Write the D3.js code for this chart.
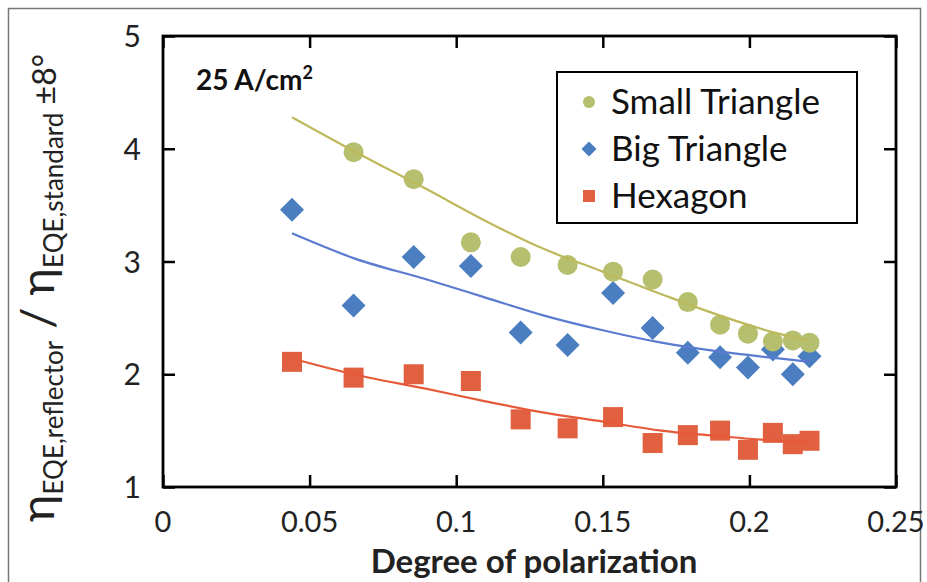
<!DOCTYPE html>
<html>
<head>
<meta charset="utf-8">
<script src="https://d3js.org/d3.v7.min.js"></script>
<style>
  body { margin: 0; background: #fff; }
  svg { font-family: Lato, "Open Sans", sans-serif; }
</style>
</head>
<body>
<svg id="chart" width="927" height="582"></svg>
<script>
// degree of polarization (same for every series)
const polarization = [0.044, 0.065, 0.0855, 0.105, 0.122, 0.138, 0.1535, 0.167, 0.179, 0.19, 0.1995, 0.208, 0.2148, 0.2205];

const smallTriangle = [null, 3.97, 3.73, 3.17, 3.04, 2.97, 2.91, 2.84, 2.64, 2.44, 2.36, 2.29, 2.3, 2.28];
const bigTriangle = [3.46, 2.61, 3.04, 2.96, 2.37, 2.26, 2.72, 2.41, 2.19, 2.15, 2.06, 2.22, 2.0, 2.16];
const hexagon = [2.11, 1.97, 2.0, 1.94, 1.6, 1.52, 1.62, 1.39, 1.46, 1.5, 1.33, 1.48, 1.38, 1.41];

// trendlines
const trendX = [0.044, 0.065, 0.09, 0.11, 0.13, 0.15, 0.17, 0.19, 0.21, 0.2205];
const smallTrend = [4.28, 3.98, 3.64, 3.36, 3.11, 2.91, 2.71, 2.52, 2.36, 2.3];
const bigTrend = [3.25, 3.03, 2.84, 2.68, 2.52, 2.39, 2.28, 2.2, 2.14, 2.11];
const hexTrend = [2.14, 2.0, 1.87, 1.76, 1.66, 1.58, 1.5, 1.45, 1.41, 1.4];

const seriesNames = ["Small Triangle", "Big Triangle", "Hexagon"];
const xTicks = [0, 0.05, 0.1, 0.15, 0.2, 0.25];
const yTicks = [1, 2, 3, 4, 5];

const width = 927;
const height = 582;
const plot = { left: 163, right: 896, top: 36, bottom: 487 };

const svg = d3.select("#chart");

// faint outer frame of the figure
svg.append("path")
  .attr("d", "M8.5,590 V8.5 H920.5 V590")
  .attr("fill", "none")
  .attr("stroke", "#777")
  .attr("stroke-width", 1.5);

const x = d3.scaleLinear().domain([0, 0.25]).range([plot.left, plot.right]);
const y = d3.scaleLinear().domain([1, 5]).range([plot.bottom, plot.top]);

const series = [
  { name: seriesNames[0], values: smallTriangle, trend: smallTrend, fill: "#b5bf6d", line: "#bdb95c", shape: "circle" },
  { name: seriesNames[1], values: bigTriangle, trend: bigTrend, fill: "#4a7ec0", line: "#5a7bd0", shape: "diamond" },
  { name: seriesNames[2], values: hexagon, trend: hexTrend, fill: "#e1603f", line: "#e65a3a", shape: "square" },
];

function marker(sel, shape, s) {
  if (shape === "circle") {
    sel.append("circle").attr("r", s / 2);
  } else if (shape === "diamond") {
    const h = s / 2;
    sel.append("path").attr("d", `M0,${-h} L${h},0 L0,${h} L${-h},0 Z`);
  } else {
    sel.append("rect").attr("x", -s / 2).attr("y", -s / 2).attr("width", s).attr("height", s);
  }
}

const line = d3.line()
  .x((d) => x(d[0]))
  .y((d) => y(d[1]))
  .curve(d3.curveMonotoneX);

// markers, drawn in reverse so small triangle sits on top
[...series].reverse().forEach((s) => {
  const g = svg.append("g").attr("fill", s.fill);
  polarization.forEach((p, i) => {
    if (s.values[i] == null) return;
    const m = g.append("g").attr("transform", `translate(${x(p)},${y(s.values[i])})`);
    marker(m, s.shape, s.shape === "diamond" ? 24 : 20);
  });
});

series.forEach((s) => {
  svg.append("path")
    .datum(trendX.map((t, i) => [t, s.trend[i]]))
    .attr("fill", "none")
    .attr("stroke", s.line)
    .attr("stroke-width", 2.2)
    .attr("d", line);
});

// axes (ticks inward on all four sides)
const tickLen = 12;
svg.append("g")
  .attr("transform", `translate(0,${plot.bottom})`)
  .call(d3.axisTop(x).tickValues(xTicks).tickSize(tickLen).tickFormat(""))
  .call((g) => g.select(".domain").remove());
svg.append("g")
  .attr("transform", `translate(0,${plot.top})`)
  .call(d3.axisBottom(x).tickValues(xTicks).tickSize(tickLen).tickFormat(""))
  .call((g) => g.select(".domain").remove());
svg.append("g")
  .attr("transform", `translate(${plot.left},0)`)
  .call(d3.axisRight(y).tickValues(yTicks).tickSize(tickLen).tickFormat(""))
  .call((g) => g.select(".domain").remove());
svg.append("g")
  .attr("transform", `translate(${plot.right},0)`)
  .call(d3.axisLeft(y).tickValues(yTicks).tickSize(tickLen).tickFormat(""))
  .call((g) => g.select(".domain").remove());
svg.selectAll(".tick line").attr("stroke", "#000").attr("stroke-width", 2.5);

svg.append("rect")
  .attr("x", plot.left)
  .attr("y", plot.top)
  .attr("width", plot.right - plot.left)
  .attr("height", plot.bottom - plot.top)
  .attr("fill", "none")
  .attr("stroke", "#000")
  .attr("stroke-width", 2.8);

// tick labels
svg.append("g")
  .selectAll("text")
  .data(xTicks)
  .join("text")
  .attr("x", (d) => x(d))
  .attr("y", 532)
  .attr("text-anchor", "middle")
  .attr("font-size", 29)
  .attr("fill", "#222")
  .text((d) => d);

svg.append("g")
  .selectAll("text")
  .data(yTicks)
  .join("text")
  .attr("x", 141)
  .attr("y", (d) => y(d) + 11)
  .attr("text-anchor", "end")
  .attr("font-size", 30)
  .attr("fill", "#222")
  .text((d) => d);

svg.append("text")
  .attr("x", 534)
  .attr("y", 573)
  .attr("text-anchor", "middle")
  .attr("font-size", 33)
  .attr("font-weight", "bold")
  .attr("fill", "#222")
  .text("Degree of polarization");

// y axis label
const yl = svg.append("text")
  .attr("transform", "translate(54,288) rotate(-90)")
  .attr("text-anchor", "middle")
  .attr("fill", "#222")
  .attr("font-size", 47);
yl.append("tspan").text("η");
yl.append("tspan").attr("font-size", 26).attr("dy", 9).text("EQE,reflector");
yl.append("tspan").attr("dy", -9).text(" / η");
yl.append("tspan").attr("font-size", 26).attr("dy", 9).text("EQE,standard");
yl.append("tspan").attr("font-size", 32).attr("dy", -7).text("  ±8°");

// current density note
const note = svg.append("text")
  .attr("x", 196)
  .attr("y", 90)
  .attr("font-size", 28)
  .attr("font-weight", "bold")
  .attr("fill", "#111");
note.append("tspan").text("25 A/cm");
note.append("tspan").attr("font-size", 18).attr("dy", -11).text("2");

// legend
const legend = svg.append("g");
legend.append("rect")
  .attr("x", 557)
  .attr("y", 72)
  .attr("width", 300)
  .attr("height", 151)
  .attr("fill", "#fff")
  .attr("stroke", "#000")
  .attr("stroke-width", 2);
series.forEach((s, i) => {
  const row = legend.append("g").attr("transform", `translate(589,${102 + i * 47})`);
  marker(row.append("g").attr("fill", s.fill), s.shape, s.shape === "diamond" ? 15 : 12);
  row.append("text")
    .attr("x", 22)
    .attr("y", 12)
    .attr("font-size", 35)
    .attr("fill", "#111")
    .text(s.name);
});
</script>
</body>
</html>
